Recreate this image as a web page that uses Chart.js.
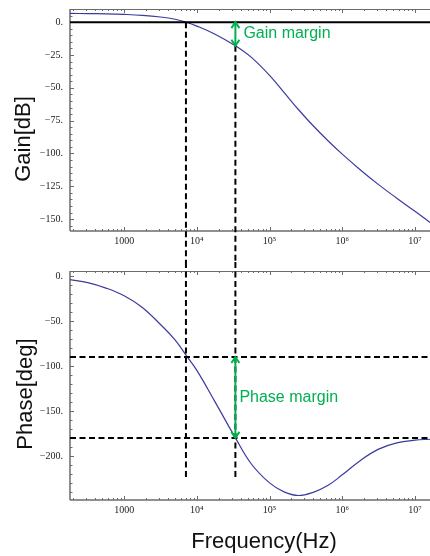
<!DOCTYPE html>
<html>
<head>
<meta charset="utf-8">
<title>Bode plot</title>
<script src="https://cdn.jsdelivr.net/npm/chart.js@4"></script>
<style>
  html, body { margin: 0; padding: 0; background: #fff; }
  #wrap { position: relative; width: 430px; height: 556px; }
  canvas { position: absolute; left: 0; }
  #gainChart { top: 0; }
  #phaseChart { top: 262px; }
</style>
</head>
<body>
<div id="wrap">
  <canvas id="gainChart" width="430" height="262"></canvas>
  <canvas id="phaseChart" width="430" height="294"></canvas>
</div>
<script>
// open-loop response, sampled along the frequency axis
const freqHz = [180, 316, 562, 1000, 1780, 3160, 5010, 7080, 10000, 17800, 33900, 56200,
  1e5, 1.58e5, 2.51e5, 3.98e5, 6.31e5, 1e6, 1.78e6, 3.16e6, 5.62e6, 1e7, 1.61e7];
const gainDb = [6.6, 6.5, 6.3, 5.9, 5.2, 3.9, 2.2, 0, -3, -9.2, -18, -26.8,
  -40.5, -53.5, -66.7, -78.9, -90.1, -100.5, -112.5, -123.7, -134, -144, -152.5];
const phaseDeg = [-4, -7.5, -13.5, -22, -35, -54, -71, -88, -105, -140, -180, -209,
  -230, -240, -244, -240.5, -233, -221, -205, -192.5, -185.5, -182.5, -181.5];

const freqTicks = [1e3, 1e4, 1e5, 1e6, 1e7];
const freqTickLabels = ['1000', '10⁴', '10⁵', '10⁶', '10⁷'];
const gainTicks = [0, -25, -50, -75, -100, -125, -150];
const gainTickLabels = ['0.', '−25.', '−50.', '−75.', '−100.', '−125.', '−150.'];
const phaseTicks = [0, -50, -100, -150, -200];
const phaseTickLabels = ['0.', '−50.', '−100.', '−150.', '−200.'];

// margin markers
const gainCrossHz = 7080;      // |G| crosses 0 dB
const phaseCrossHz = 33900;    // phase reaches -180 deg
const gainAtPhaseCross = -18;
const phaseRefLines = [-90, -180];
const markerBottomDeg = -224;

const green = '#00b050';
const curveColor = '#3b3b9d';
const serif = 'Liberation Serif';
const sans = 'Liberation Sans';

function strokeLine(ctx, x1, y1, x2, y2) {
  ctx.beginPath();
  ctx.moveTo(x1, y1);
  ctx.lineTo(x2, y2);
  ctx.stroke();
}

function arrowHead(ctx, x, y, dir) {
  ctx.beginPath();
  ctx.moveTo(x - 4, y - dir * 6);
  ctx.lineTo(x, y);
  ctx.lineTo(x + 4, y - dir * 6);
  ctx.stroke();
}

function doubleArrow(ctx, x, yTop, yBottom) {
  ctx.save();
  ctx.setLineDash([]);
  ctx.strokeStyle = green;
  ctx.lineWidth = 2;
  strokeLine(ctx, x, yTop + 1, x, yBottom - 1);
  arrowHead(ctx, x, yTop, -1);
  arrowHead(ctx, x, yBottom, 1);
  ctx.restore();
}

function label(ctx, text, x, y, font, color, rotate) {
  ctx.save();
  ctx.font = font;
  ctx.fillStyle = color;
  ctx.textBaseline = 'alphabetic';
  ctx.textAlign = rotate ? 'center' : 'left';
  ctx.translate(x, y);
  if (rotate) ctx.rotate(-Math.PI / 2);
  ctx.fillText(text, 0, 0);
  ctx.restore();
}

// Mathematica-style frame with inward ticks
function frameTicks(minorStep) {
  return {
    id: 'frameTicks',
    beforeDatasetsDraw(chart) {
      const { ctx, chartArea: a, scales: { x, y } } = chart;
      ctx.save();
      ctx.strokeStyle = '#6b6b6b';
      ctx.lineWidth = 1;
      strokeLine(ctx, a.left, a.top + 0.5, a.right, a.top + 0.5);
      ctx.lineWidth = 1.5;
      strokeLine(ctx, a.left, a.top, a.left, a.bottom);
      strokeLine(ctx, a.left, a.bottom, a.right, a.bottom);
      ctx.lineWidth = 1;
      for (let d = 2; d <= 7; d++) {
        for (let k = 1; k <= 9; k++) {
          const v = k * Math.pow(10, d);
          if (v < x.min || v > x.max) continue;
          const px = Math.round(x.getPixelForValue(v)) + 0.5;
          const len = k === 1 ? 4 : 2;
          strokeLine(ctx, px, a.bottom, px, a.bottom - len);
          strokeLine(ctx, px, a.top, px, a.top + len);
        }
      }
      for (let v = Math.ceil(y.min / minorStep) * minorStep; v <= y.max; v += minorStep) {
        const py = Math.round(y.getPixelForValue(v)) + 0.5;
        const major = y.ticks.some(t => t.value === v);
        strokeLine(ctx, a.left, py, a.left + (major ? 4 : 2.5), py);
      }
      ctx.restore();
    }
  };
}

const gainOverlay = {
  id: 'gainOverlay',
  afterDatasetsDraw(chart) {
    const { ctx, chartArea: a, scales: { x, y } } = chart;
    const y0 = y.getPixelForValue(0);
    const yMargin = y.getPixelForValue(gainAtPhaseCross);
    const xg = x.getPixelForValue(gainCrossHz);
    const xp = x.getPixelForValue(phaseCrossHz);
    ctx.save();
    ctx.strokeStyle = '#000';
    ctx.lineWidth = 2;
    strokeLine(ctx, a.left, y0, a.right, y0);
    ctx.setLineDash([6, 3.5]);
    strokeLine(ctx, xg, y0, xg, chart.height);
    strokeLine(ctx, xp, yMargin, xp, chart.height);
    ctx.restore();
    doubleArrow(ctx, xp, y0, yMargin);
    label(ctx, 'Gain margin', xp + 8, (y0 + yMargin) / 2 + 4, '16px "' + sans + '"', green);
    label(ctx, 'Gain[dB]', 30, 139, '22px "' + sans + '"', '#111', true);
  }
};

const phaseOverlay = {
  id: 'phaseOverlay',
  afterDatasetsDraw(chart) {
    const { ctx, chartArea: a, scales: { x, y } } = chart;
    const xg = x.getPixelForValue(gainCrossHz);
    const xp = x.getPixelForValue(phaseCrossHz);
    const yEnd = y.getPixelForValue(markerBottomDeg);
    ctx.save();
    ctx.strokeStyle = '#000';
    ctx.lineWidth = 2;
    ctx.setLineDash([6, 3.5]);
    phaseRefLines.forEach(v => {
      const py = y.getPixelForValue(v);
      strokeLine(ctx, a.left, py, a.right, py);
    });
    strokeLine(ctx, xg, 0, xg, yEnd);
    strokeLine(ctx, xp, 0, xp, yEnd);
    ctx.restore();
    const yTop = y.getPixelForValue(phaseRefLines[0]);
    const yBottom = y.getPixelForValue(phaseRefLines[1]);
    doubleArrow(ctx, xp, yTop, yBottom);
    label(ctx, 'Phase margin', xp + 4, (yTop + yBottom) / 2 + 5, '16px "' + sans + '"', green);
    label(ctx, 'Phase[deg]', 31.5, 132, '22px "' + sans + '"', '#111', true);
    ctx.save();
    ctx.font = '22px "' + sans + '"';
    ctx.fillStyle = '#111';
    ctx.textAlign = 'center';
    ctx.fillText('Frequency(Hz)', 264, 286);
    ctx.restore();
  }
};

function freqAxis(height) {
  return {
    type: 'logarithmic',
    min: 180,
    max: 1.61e7,
    grid: { display: false, drawTicks: false },
    border: { display: false },
    afterBuildTicks: s => { s.ticks = freqTicks.map(v => ({ value: v })); },
    afterFit: s => { s.height = height; s.paddingLeft = 0; s.paddingRight = 0; },
    ticks: {
      autoSkip: false,
      maxRotation: 0,
      padding: 4,
      color: '#222',
      font: { family: serif, size: 10 },
      callback: (v, i) => freqTickLabels[i]
    }
  };
}

function valueAxis(min, max, tickValues, tickLabels) {
  return {
    min: min,
    max: max,
    grid: { display: false, drawTicks: false },
    border: { display: false },
    afterBuildTicks: s => { s.ticks = tickValues.map(v => ({ value: v })); },
    afterFit: s => { s.width = 70; s.paddingTop = 0; s.paddingBottom = 0; },
    ticks: {
      autoSkip: false,
      padding: 7,
      color: '#222',
      font: { family: serif, size: 10 },
      callback: (v, i) => tickLabels[i]
    }
  };
}

function makeChart(id, values, yAxis, xHeight, plugins) {
  return new Chart(document.getElementById(id), {
    type: 'line',
    data: {
      datasets: [{
        data: freqHz.map((f, i) => ({ x: f, y: values[i] })),
        borderColor: curveColor,
        borderWidth: 1.2,
        pointRadius: 0,
        fill: false,
        tension: 0.4
      }]
    },
    options: {
      responsive: false,
      animation: false,
      devicePixelRatio: 1,
      layout: { padding: { top: 9, left: 0, right: 0, bottom: 0 } },
      plugins: { legend: { display: false }, tooltip: { enabled: false } },
      scales: { x: freqAxis(xHeight), y: yAxis }
    },
    plugins: plugins
  });
}

makeChart('gainChart', gainDb, valueAxis(-159, 10, gainTicks, gainTickLabels), 31,
  [frameTicks(5), gainOverlay]);
makeChart('phaseChart', phaseDeg, valueAxis(-249, 5.5, phaseTicks, phaseTickLabels), 56,
  [frameTicks(10), phaseOverlay]);
</script>
</body>
</html>
